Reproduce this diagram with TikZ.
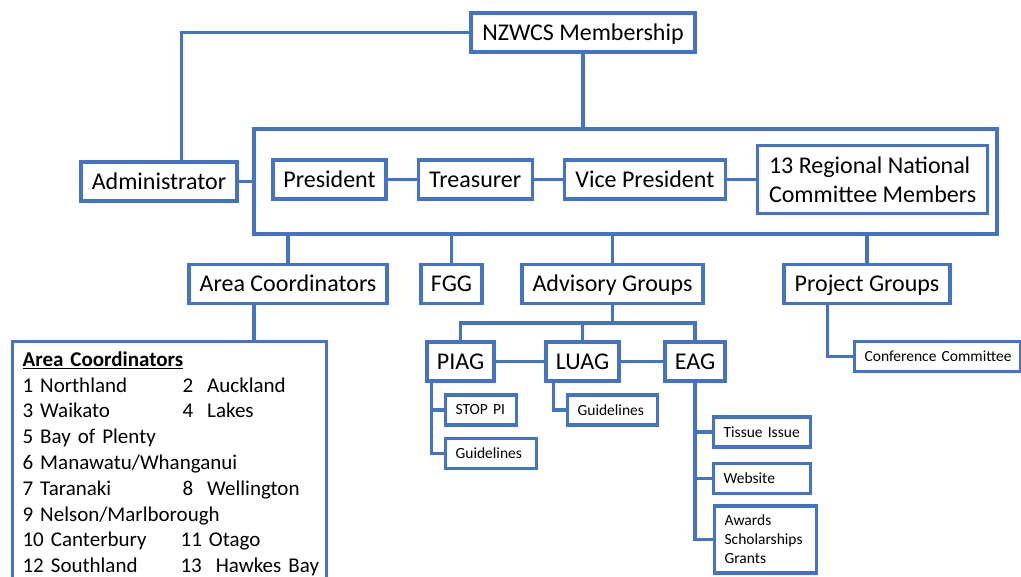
\documentclass[tikz,border=0pt]{standalone}
\usepackage{fontspec}
\setmainfont{Carlito}
\usepackage{tikz}
\usetikzlibrary{positioning}
\definecolor{nzblue}{HTML}{4472C4}

\begin{document}
\begin{tikzpicture}[x=1pt, y=-1pt,
    tag/.style={draw=nzblue, line width=3.2pt, fill=white, inner sep=0pt,
        minimum height=39pt, font=\fontsize{24}{29}\selectfont},
    unit/.style={tag, text height=18pt, text depth=2pt},
    leaf/.style={draw=nzblue, line width=3.2pt, fill=white, inner xsep=10pt,
        inner ysep=0pt, minimum height=30pt, align=left, text width=#1,
        font=\fontsize{15.5}{19}\selectfont},
    link/.style={draw=nzblue, line width=3.2pt}]
  \useasboundingbox (0,0) rectangle (1021,577);
  \clip (0,0) rectangle (1021,577);

  % membership, admin and the national committee
  \node[unit, minimum width=224pt] (members) at (583,32.5) {NZWCS Membership};
  \node[unit, minimum width=156pt] (admin) at (159,181.5) {Administrator};
  \node[draw=nzblue, line width=3.2pt, minimum width=743pt, minimum height=105pt] (board) at (625.5,181.5) {};
  \node[unit, minimum width=113pt] (president) at (329.5,179.5) {President};
  \node[unit, minimum width=114pt, right=29pt of president] (treasurer) {Treasurer};
  \node[unit, minimum width=161pt, right=29pt of treasurer] (vp) {Vice President};
  \node[tag, minimum width=230pt, minimum height=68pt, align=left,
        right=29pt of vp] (regional) {13 Regional National\\Committee Members};

  \draw[link] (members.west) -| ([xshift=102pt]admin.north west);
  \draw[link] (members.south) -- (members.south |- board.north);
  \draw[link] (admin.east) -- (board.west);
  \draw[link] (president) -- (treasurer) (treasurer) -- (vp) (vp) -- (regional);

  % second level
  \node[unit, minimum width=198pt] (areac) at (288,284) {Area Coordinators};
  \node[unit, minimum width=61pt] (fgg) at (451.5,284) {FGG};
  \node[unit, minimum width=181pt] (advisory) at (612.5,284) {Advisory Groups};
  \node[unit, minimum width=166pt] (project) at (867,284) {Project Groups};

  \foreach \n in {areac, fgg, advisory, project}
    \draw[link] (\n) -- (\n |- board.south);

  % list of areas
  \node[draw=nzblue, line width=3.2pt, anchor=north west, inner xsep=10pt, inner ysep=10pt,
        text width=294pt, align=left, font=\fontsize{21}{25.8}\selectfont] (arealist) at (11,340) {%
    \textbf{\underline{Area Coordinators}}\\
    \makebox[160pt][l]{1 Northland}\rlap{2~~Auckland}\\
    \makebox[160pt][l]{3 Waikato}\rlap{4~~Lakes}\\
    5 Bay of Plenty\\
    6 Manawatu/Whanganui\\
    \makebox[160pt][l]{7 Taranaki}\rlap{8~~Wellington}\\
    9 Nelson/Marlborough\\
    \makebox[158pt][l]{10 Canterbury}\rlap{11 Otago}\\
    \makebox[158pt][l]{12 Southland}\rlap{13~~Hawkes Bay}};
  \draw[link] ([xshift=-34pt]areac.south) -- ([xshift=-34pt]areac.south |- arealist.north);

  % advisory groups
  \coordinate (agbar) at (613,323);
  \node[unit, minimum width=67pt] (piag) at (460.5,361.5) {PIAG};
  \node[unit, minimum width=73pt] (luag) at (582.5,361.5) {LUAG};
  \node[unit, minimum width=60pt] (eag) at (695,361.5) {EAG};

  \draw[link] (advisory) -- (advisory |- agbar);
  \draw[link] (piag.north) |- (eag.north |- agbar) -- (eag.north);
  \draw[link] (luag.north) -- (luag.north |- agbar);
  \draw[link] (piag.east) -- (luag.west) (luag.east) -- (eag.west);

  \node[leaf=51pt, anchor=west] (stoppi) at (444,410) {STOP PI};
  \node[leaf=71pt, below=10pt of stoppi.south west, anchor=north west] (piagguide) {Guidelines};
  \node[leaf=70pt, anchor=west] (luagguide) at (566,410) {Guidelines};
  \node[leaf=77pt, anchor=west] (tissue) at (712,432) {Tissue Issue};
  \node[leaf=77pt, below=13pt of tissue.south west, anchor=north west] (website) {Website};
  \node[leaf=82pt, minimum height=67pt, anchor=west] (awards) at (713,539.5) {Awards\\Scholarships\\Grants};

  \draw[link] ([xshift=6pt]piag.south west) |- (stoppi.west);
  \draw[link] ([xshift=6pt]piag.south west) |- (piagguide.west);
  \draw[link] ([xshift=9pt]luag.south west) |- (luagguide.west);
  \foreach \n in {tissue, website, awards}
    \draw[link] (eag.south) |- (\n.west);

  % project groups
  \node[leaf=146pt, anchor=west] (conf) at (853,356.5) {\mbox{Conference Committee}};
  \draw[link] ([xshift=45pt]project.south west) |- (conf.west);
\end{tikzpicture}
\end{document}
